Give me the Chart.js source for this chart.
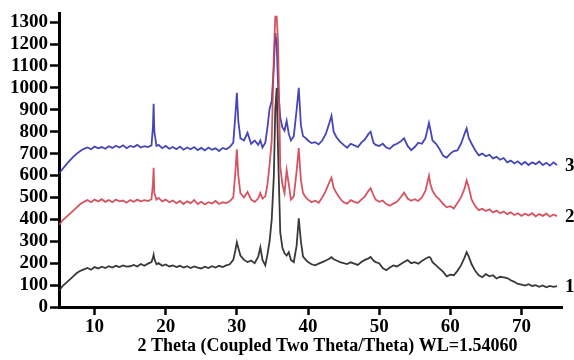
<!DOCTYPE html>
<html>
<head>
<meta charset="utf-8">
<script src="https://cdn.jsdelivr.net/npm/chart.js@4.4.1/dist/chart.umd.min.js"></script>
<style>
  html, body { margin: 0; padding: 0; background: #fff; }
  #xrd { display: block; }
</style>
</head>
<body>
<canvas id="xrd" width="574" height="360"></canvas>
<script>
// 2 theta positions (degrees), shared by all three patterns
const twoTheta = [
  5, 5.5, 6, 6.5, 7, 7.5, 8, 8.5, 9, 9.5, 10, 10.5, 11, 11.5, 12, 12.5, 13, 13.5, 14, 14.5, 15, 15.5, 16, 16.5, 17, 17.5, 18,
  18.2, 18.3, 18.4, 18.7,
  19, 19.5, 20, 20.5, 21, 21.5, 22, 22.5, 23, 23.5, 24, 24.5, 25, 25.5, 26, 26.5, 27, 27.5, 28, 28.5, 29, 29.5,
  29.8, 30, 30.2, 30.5,
  31, 31.5, 32, 32.5, 33,
  33.3, 33.6, 34, 34.3, 34.6, 34.9, 35.2, 35.4, 35.6, 35.8, 36.1, 36.4, 36.7, 37, 37.3, 37.6, 38, 38.4, 38.7, 39, 39.3, 39.7,
  40, 40.5, 41, 41.5, 42, 42.5, 43,
  43.3, 43.6, 44,
  44.5, 45, 45.5, 46, 46.5, 47, 47.5, 48, 48.5,
  48.8, 49.2, 49.5,
  50, 50.5, 51, 51.5, 52, 52.5, 53, 53.5, 54, 54.5, 55, 55.5, 56, 56.5, 57,
  57.2, 57.5,
  58, 58.5, 59, 59.5, 60, 60.5, 61, 61.5, 62,
  62.3, 62.6,
  63, 63.5, 64, 64.5, 65, 65.5, 66, 66.5, 67, 67.5, 68, 68.5, 69, 69.5, 70, 70.5, 71, 71.5, 72, 72.5, 73, 73.5, 74, 74.5, 75
];

// pattern 1 (black)
const sample1 = [
  75, 95, 110, 125, 140, 155, 165, 172, 178, 170, 182, 176, 184, 178, 186, 180, 188, 182, 190, 184, 186, 192, 185, 196, 188, 198, 205,
  225, 238, 220, 195,
  200, 188, 194, 185, 190, 182, 188, 180, 186, 178, 185, 180, 176, 184, 178, 186, 180, 188, 182, 190, 195, 215,
  260, 295, 270, 235,
  215, 205, 212, 200, 230,
  272, 215, 190, 240, 300, 400, 600, 900, 1000, 700, 340, 270, 245, 235, 250, 215, 205, 280, 405, 300, 230, 215,
  205, 195, 190, 198, 205, 212, 220,
  227, 218, 212,
  205, 200, 196, 204, 198, 192, 205, 215, 222,
  228, 212, 205,
  200, 178, 168, 180, 190, 185, 195, 205, 214, 200, 205, 198, 210, 220, 228,
  225, 205,
  190, 175, 160, 140, 148, 145, 165, 190, 225,
  250, 230,
  195, 165, 145, 136, 150, 140, 145, 130, 138, 135, 132, 122, 115, 105, 102, 98, 104, 96, 100, 92, 98, 90, 96, 92, 95
];

// pattern 2 (red)
const sample2 = [
  375, 395, 410, 425, 440, 455, 470, 480, 488, 478, 490, 482, 492, 480, 488, 478, 490, 482, 486, 476, 488, 480, 490, 482, 488, 484, 492,
  560, 635, 520, 490,
  498, 482, 490, 478, 486, 474, 484, 470, 482, 474, 488, 470, 480, 468, 478, 472, 484, 470, 478, 474, 482, 500,
  620, 720, 600, 520,
  500, 525, 490, 480, 495,
  520, 495, 505, 560, 650, 760, 1150, 1325, 1325, 1200, 640, 560, 520, 625, 560, 490, 505, 620, 725, 580, 520, 500,
  490, 478, 485, 476, 500, 530, 570,
  590, 545, 520,
  495, 478, 472, 488, 480, 475, 490, 505, 530,
  542, 510, 490,
  480, 486, 470, 462, 472, 480, 500, 522, 495, 485, 492, 484, 500, 530, 600,
  560, 530,
  505, 490, 470, 455, 460, 450, 475, 500, 540,
  578, 545,
  490, 460, 442, 448, 438, 446, 432, 440, 428, 436, 424, 432, 420, 428, 416, 426, 418, 428, 414, 424, 416, 426, 412, 422, 415
];

// pattern 3 (blue)
const sample3 = [
  610, 630, 650, 668, 685, 700, 712, 722, 728, 720, 732, 724, 730, 722, 734, 726, 736, 728, 738, 725, 735, 730, 740, 728, 734, 730, 738,
  820, 928, 800, 735,
  740, 725, 735, 722, 730, 720, 732, 718, 728, 720, 730, 716, 726, 715, 728, 718, 724, 712, 726, 720, 730, 750,
  880, 978, 850, 770,
  760, 795, 745, 760, 740,
  760, 728, 750, 820, 905, 940, 1100, 1250, 1200, 1000, 865, 820, 805, 850, 790, 760, 780, 900, 1000, 830, 780, 770,
  760, 748, 752, 742, 760, 790, 840,
  873, 800, 775,
  755, 740, 727, 745, 738, 730, 750, 765, 790,
  800, 750, 740,
  735, 745, 728, 722, 738, 745, 755, 770, 735, 716, 730, 750, 745, 770, 840,
  810, 760,
  745, 720, 690, 682, 700, 712, 715, 745, 790,
  815, 770,
  745, 715, 692, 700, 688, 695, 678, 685, 672, 680, 660, 668, 655, 665, 650, 662, 648, 660, 652, 664, 648, 658, 645, 660, 648
];

const curveLabels = ["2", "1", "3"];
const xTicks = [10, 20, 30, 40, 50, 60, 70];
const yTicks = [0, 100, 200, 300, 400, 500, 600, 700, 800, 900, 1000, 1100, 1200, 1300];
const xTitle = "2 Theta (Coupled Two Theta/Theta) WL=1.54060";

const serif = "'Liberation Serif', 'Times New Roman', serif";

function toPoints(values) {
  return values.map((v, i) => ({ x: twoTheta[i], y: v }));
}

// numbers 1, 2, 3 right of each pattern's last point, plus the x title
const extraText = {
  id: "extraText",
  afterDraw(chart) {
    const ctx = chart.ctx;
    const area = chart.chartArea;
    ctx.save();
    ctx.font = "bold 19px " + serif;
    ctx.fillStyle = "#000";
    ctx.textBaseline = "middle";
    chart.data.datasets.forEach((ds, i) => {
      const meta = chart.getDatasetMeta(i);
      const last = meta.data[meta.data.length - 1];
      ctx.fillText(curveLabels[i], last.x + 8, last.y + 1);
    });
    // title sits a bit right of the plot centre in the original
    ctx.font = "bold 18px " + serif;
    ctx.textAlign = "center";
    ctx.fillText(xTitle, (area.left + area.right) / 2 + 17, chart.height - 14);
    ctx.restore();
  }
};

new Chart(document.getElementById("xrd").getContext("2d"), {
  type: "line",
  data: {
    datasets: [
      { data: toPoints(sample2), borderColor: "rgba(208,65,80,0.9)", borderWidth: 1.8 },
      { data: toPoints(sample1), borderColor: "rgba(35,35,35,0.9)", borderWidth: 1.8 },
      { data: toPoints(sample3), borderColor: "rgba(50,50,175,0.9)", borderWidth: 1.8 }
    ]
  },
  options: {
    responsive: false,
    animation: false,
    devicePixelRatio: 1,
    elements: { point: { radius: 0 }, line: { tension: 0 } },
    layout: { padding: { top: 12, right: 12, left: 0, bottom: 0 } },
    plugins: {
      legend: { display: false },
      tooltip: { enabled: false }
    },
    scales: {
      x: {
        type: "linear",
        min: 5,
        max: 75.7,
        afterBuildTicks: (scale) => { scale.ticks = xTicks.map(v => ({ value: v })); },
        afterFit: (scale) => { scale.height = 53; },
        border: { display: true, color: "#000", width: 3 },
        grid: { drawOnChartArea: false, drawTicks: true, tickLength: 8, tickWidth: 2.5, tickColor: "#000" },
        ticks: {
          color: "#000", padding: 1, maxRotation: 0, autoSkip: false,
          callback: (v) => String(v),
          font: { family: serif, size: 19, weight: "bold" }
        }
      },
      y: {
        type: "linear",
        min: 0,
        max: 1340,
        afterBuildTicks: (scale) => { scale.ticks = yTicks.map(v => ({ value: v })); },
        afterFit: (scale) => { scale.width = 59; },
        border: { display: true, color: "#000", width: 3 },
        grid: { drawOnChartArea: false, drawTicks: true, tickLength: 9, tickWidth: 2.5, tickColor: "#000" },
        ticks: {
          color: "#000", padding: 2, autoSkip: false,
          callback: (v) => String(v),
          font: { family: serif, size: 19, weight: "bold" }
        }
      }
    }
  },
  plugins: [extraText]
});
</script>
</body>
</html>
